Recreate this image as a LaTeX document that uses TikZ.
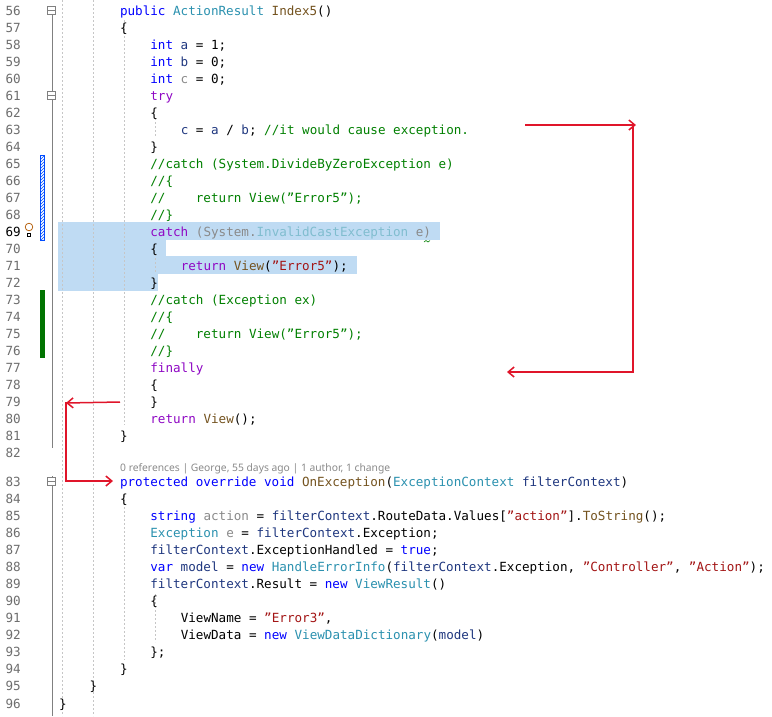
\documentclass[tikz,border=0pt]{standalone}
\usepackage{fontspec}
\setmainfont{DejaVu Sans Mono}[Ligatures=ResetAll]
\newfontfamily\lensfont{Noto Sans}
\usetikzlibrary{patterns,arrows.meta}
\definecolor{ckw}{HTML}{0000FF}
\definecolor{cty}{HTML}{2B91AF}
\definecolor{ccm}{HTML}{008000}
\definecolor{cst}{HTML}{A31515}
\definecolor{cct}{HTML}{8F08C4}
\definecolor{cme}{HTML}{74531F}
\definecolor{cva}{HTML}{1F377F}
\definecolor{cgy}{HTML}{8A8A8A}
\definecolor{cln}{HTML}{6E6E6E}
\definecolor{csel}{HTML}{BFDBF3}
\definecolor{carrow}{HTML}{E0152A}
\newcommand\CKw[1]{\textcolor{ckw}{#1}}
\newcommand\CTy[1]{\textcolor{cty}{#1}}
\newcommand\CCm[1]{\textcolor{ccm}{#1}}
\newcommand\CSt[1]{\textcolor{cst}{#1}}
\newcommand\CCt[1]{\textcolor{cct}{#1}}
\newcommand\CMe[1]{\textcolor{cme}{#1}}
\newcommand\CVa[1]{\textcolor{cva}{#1}}
\newcommand\CGy[1]{\textcolor{cgy}{#1}}
\newcommand\dq{\char34\relax}
\newcommand\ylin[1]{\pgfmathsetmacro\yy{#1<83 ? 15+(#1-56)*17 : 486+(#1-83)*17.08}}
\newcommand\cl[3]{\ylin{#1}\node[code] (L#1) at ({59+30.4*#2},\yy) {#3};}
\tikzset{
  code/.style={anchor=base west,inner sep=0pt,font=\fontsize{12.6}{14}\selectfont},
  lnum/.style={anchor=base east,inner sep=0pt,text=cln,font=\fontsize{12.6}{14}\selectfont},
  guide/.style={draw=gray!45,dashed,dash pattern=on 2pt off 2pt,line width=0.6pt},
  redarrow/.style={draw=carrow,line width=1.5pt,-{Straight Barb[length=6pt,width=10pt]}},
  foldbox/.style={draw=gray,fill=white,minimum size=8pt,inner sep=0pt,line width=0.6pt}
}
\begin{document}
\begin{tikzpicture}[x=1pt,y=-1pt]
\useasboundingbox[fill=white] (0,0) rectangle (772,716);
% selection
\fill[csel] (58,222) rectangle (440,240);
\fill[csel] (58,239) rectangle (166,257);
\fill[csel] (58,256) rectangle (357,274);
\fill[csel] (58,273) rectangle (158,291);
% guides
\draw[guide] (62,0) -- (62,716);
\draw[guide] (93,0) -- (93,716);
\draw[guide] (124,20) -- (124,425);
\draw[guide] (124,495) -- (124,660);
\draw[guide] (155,118) -- (155,136);
\draw[guide] (155,254) -- (155,272);
\draw[guide] (155,594) -- (155,642);
% outlining
\draw[gray,line width=0.6pt] (52,10) -- (52,448);
\draw[gray,line width=0.6pt] (52,476) -- (52,716);
\foreach \k in {56,61,83}{\ylin{\k}\node[foldbox] (F\k) at (51,\yy-5) {}; \draw[gray,line width=0.6pt] (47.5,\yy-5) -- (54.5,\yy-5);}
% change marks
\path[draw=blue!70!cyan,pattern=north east lines,pattern color=blue!70!cyan] (40.5,155) rectangle (44.5,240);
\fill[green!45!black] (40,290) rectangle (45,358);
% lightbulb
\draw[orange!70!black,line width=0.7pt] (29,227) circle (3.8);
\draw[black,line width=0.6pt] (27.5,233) rectangle (30.5,236.5);
% line numbers
\foreach \k in {56,...,96}{\ylin{\k}\node[lnum] (N\k) at (21,\yy) {\ifnum\k=69 \textcolor{black}{\k}\else\k\fi};}
% code
\cl{56}{2}{\CKw{public} \CTy{ActionResult} \CMe{Index5}()}
\cl{57}{2}{\{}
\cl{58}{3}{\CKw{int} \CVa{a} = 1;}
\cl{59}{3}{\CKw{int} \CVa{b} = 0;}
\cl{60}{3}{\CKw{int} \CGy{c} = 0;}
\cl{61}{3}{\CCt{try}}
\cl{62}{3}{\{}
\cl{63}{4}{\CVa{c} = \CVa{a} / \CVa{b}; \CCm{//it would cause exception.}}
\cl{64}{3}{\}}
\cl{65}{3}{\CCm{//catch (System.DivideByZeroException e)}}
\cl{66}{3}{\CCm{//\{}}
\cl{67}{3}{\CCm{//\ \ \ \ return View(\dq Error5\dq);}}
\cl{68}{3}{\CCm{//\}}}
\cl{69}{3}{\CCt{catch}\ \CGy{(System.}\textcolor{cty!60!white}{InvalidCastException}\CGy{\ e)}}
\cl{70}{3}{\{}
\cl{71}{4}{\CCt{return} \CMe{View}(\CSt{\dq Error5\dq});}
\cl{72}{3}{\}}
\cl{73}{3}{\CCm{//catch (Exception ex)}}
\cl{74}{3}{\CCm{//\{}}
\cl{75}{3}{\CCm{//\ \ \ \ return View(\dq Error5\dq);}}
\cl{76}{3}{\CCm{//\}}}
\cl{77}{3}{\CCt{finally}}
\cl{78}{3}{\{}
\cl{79}{3}{\}}
\cl{80}{3}{\CCt{return} \CMe{View}();}
\cl{81}{2}{\}}
\cl{82}{2}{}
\draw[green!50!black,line width=0.6pt] (424,242) -- (426,240.5) -- (428,242) -- (430,240.5);
\node[anchor=base west,inner sep=0pt,text=cgy,font=\lensfont\fontsize{10.3}{12}\selectfont] (lens) at (120,471) {0 references | George, 55 days ago | 1 author, 1 change};
\cl{83}{2}{\CKw{protected} \CKw{override} \CKw{void} \CMe{OnException}(\CTy{ExceptionContext} \CVa{filterContext})}
\cl{84}{2}{\{}
\cl{85}{3}{\CKw{string} \CGy{action} = \CVa{filterContext}.RouteData.Values[\CSt{\dq action\dq}].\CMe{ToString}();}
\cl{86}{3}{\CTy{Exception} \CGy{e} = \CVa{filterContext}.Exception;}
\cl{87}{3}{\CVa{filterContext}.ExceptionHandled = \CKw{true};}
\cl{88}{3}{\CKw{var} \CVa{model} = \CKw{new} \CTy{HandleErrorInfo}(\CVa{filterContext}.Exception, \CSt{\dq Controller\dq}, \CSt{\dq Action\dq});}
\cl{89}{3}{\CVa{filterContext}.Result = \CKw{new} \CTy{ViewResult}()}
\cl{90}{3}{\{}
\cl{91}{4}{ViewName = \CSt{\dq Error3\dq},}
\cl{92}{4}{ViewData = \CKw{new} \CTy{ViewDataDictionary}(\CVa{model})}
\cl{93}{3}{\};}
\cl{94}{2}{\}}
\cl{95}{1}{\}}
\cl{96}{0}{\}}
% arrows
\coordinate (a1) at (525,125);
\coordinate (a2) at (636,125);
\coordinate (a3) at (633,124.25);
\coordinate (a4) at (633,372);
\coordinate (a5) at (507,372);
\draw[redarrow] (a1) -- (a2);
\draw[redarrow] (a3) -- (a4) -- (a5);
\coordinate (b1) at (120,402);
\coordinate (b2) at (66,403);
\coordinate (b3) at (66,402.25);
\coordinate (b4) at (66,481);
\coordinate (b5) at (113,481);
\draw[redarrow] (b1) -- (b2);
\draw[redarrow] (b3) -- (b4) -- (b5);
\end{tikzpicture}
\end{document}
